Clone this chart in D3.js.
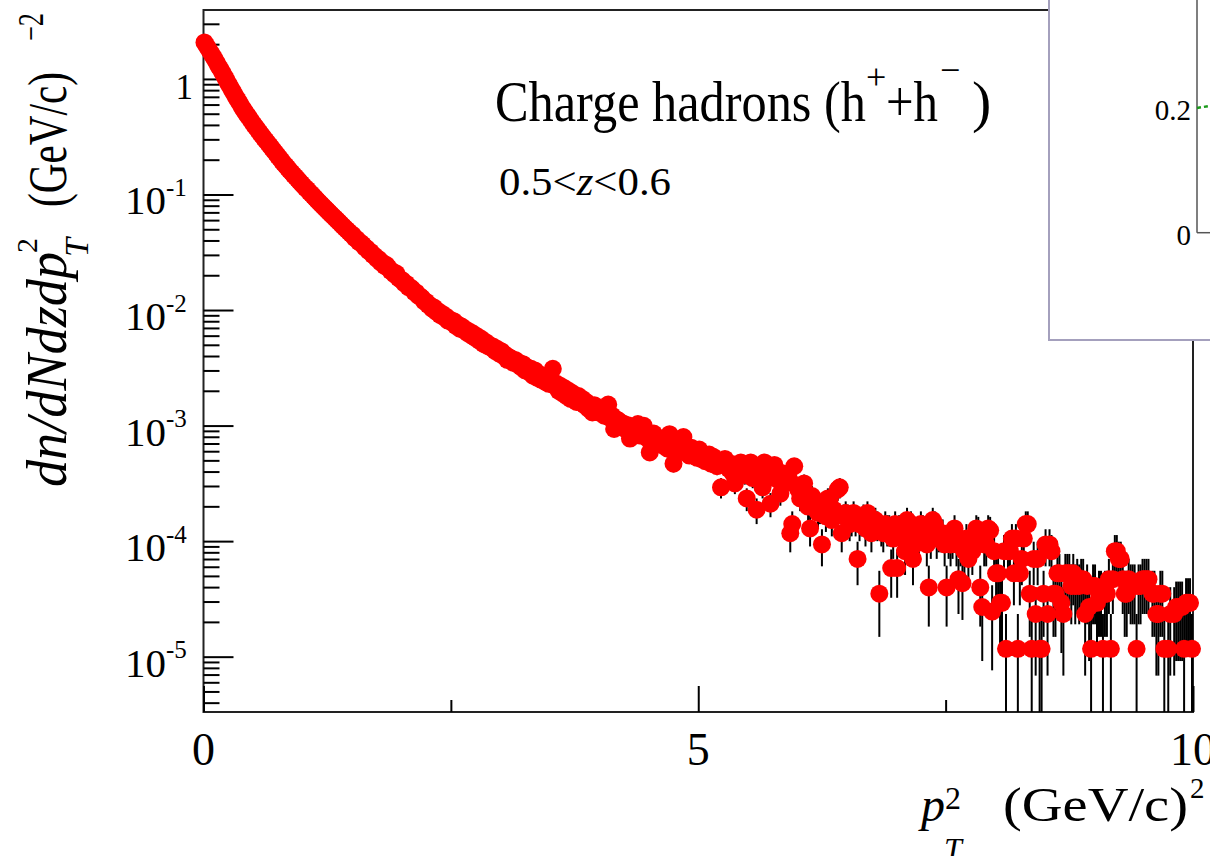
<!DOCTYPE html>
<html><head><meta charset="utf-8">
<script src="https://cdn.jsdelivr.net/npm/d3@7"></script>
<style>
body{margin:0;background:#fff}
svg{display:block}
text{font-family:"Liberation Serif","Times New Roman",serif;fill:#000}
</style></head>
<body><svg id="c" width="1210" height="856"></svg>
<script>
// ---------------- data ----------------
const binStart = 0, binWidth = 0.02;        // pT^2 bins (GeV/c)^2
const countUnit = 1.17e-5;                  // value of a single-entry bin
// dn/dNdzdpT2 for pT2 < 4
const lowValues = [
2.07,1.94,1.82,1.71,1.60, 1.50,1.40,1.30,1.22,1.14,
1.058,0.985,0.917,0.854,0.795, 0.742,0.694,0.649,0.607,0.568,
0.534,0.504,0.476,0.449,0.424, 0.401,0.381,0.361,0.342,0.325,
0.308,0.293,0.279,0.265,0.252, 0.239,0.228,0.216,0.206,0.195,
0.186,0.178,0.170,0.162,0.155, 0.148,0.142,0.136,0.130,0.124,
0.119,0.114,0.110,0.105,0.101, 0.0968,0.0929,0.0891,0.0855,0.0820,
0.0788,0.0758,0.0729,0.0701,0.0674, 0.0648,0.0623,0.0599,0.0576,0.0554,
0.0532,0.0512,0.0493,0.0474,0.0456, 0.0445,0.0418,0.0410,0.0388,0.0382,
0.0368,0.0349,0.0342,0.0323,0.0318, 0.0300,0.0295,0.0279,0.0276,0.0259,
0.0256,0.0241,0.0245,0.0232,0.0218, 0.0216,0.0203,0.0207,0.0190,0.0184,
0.0181,0.0170,0.0169,0.0158,0.0157, 0.0152,0.0143,0.0142,0.0133,0.0131,
0.0127,0.0119,0.0118,0.0111,0.0110, 0.0103,0.0105,0.0097,0.0098,0.0091,
0.0093,0.0087,0.0088,0.0081,0.0083, 0.0078,0.0080,0.0073,0.0075,0.0069,
0.0072,0.0067,0.0068,0.0063,0.0065, 0.0060,0.0062,0.0057,0.0059,0.0054,
0.0056,0.0051,0.0053,0.0049,0.0050, 0.0047,0.0048,0.0044,0.0046,0.0042,
0.0044,0.0040,0.0041,0.0037,0.0039, 0.0038,0.0035,0.0037,0.0034,0.0035,
0.0032,0.0034,0.0030,0.0032,0.0029, 0.0031,0.0027,0.0030,0.0026,0.0028,
0.0025,0.0027,0.0024,0.0026,0.0023, 0.0025,0.0031,0.0022,0.0023,0.0020,
0.0022,0.0019,0.0021,0.0018,0.0020, 0.0017,0.0019,0.0018,0.0016,0.0018,
0.0016,0.0017,0.0015,0.0016,0.0014, 0.0015,0.0013,0.0015,0.0014,0.0013
];
// weighted entries per bin (in units of countUnit) for pT2 >= 4
const highCounts = [
112,118,104,110,130,99,104,80,97,95,
92,84,88,79,86,66,82,77,84,88,
70,74,85,68,66,50,56,73,62,67,
60,64,57,59,54,72,58,40,61,56,
53,57,68,50,52,47,55,49,51,45,
53,44,47,42,45,48,40,46,43,38,
41,25,39,44,38,36,40,33,27,35,
37,41,34,32,20,36,41,30,38,16,
34,38,25,41,36,30,18,33,39,35,
29,22,33,27,30,31,10,12,38,26,
24,20,22,27,19,17,11,21,18,19,
15,16,8,17,14,20,20,13,16,15,
24,25,10,14,15,14,12,13,15,13,
6,12,13,14,11,15,12,10,13,13,
12,3,11,10,12,11,11,5,9,12,
5,11,10,9,7,13,10,12,6,8,
10,9,12,11,10,8,3.4,9,13,12,
9,10,10,10,8,3.4,9,8,9,11,
8,4,8,3.7,7,9,6,8,7,9,
11,10.6,3.4,2.3,8,8,11,10.6,2.1,7,
4.5,4.5,2.5,2.5,7,1,7,7,9,4.5,
9,1,4.5,6,9,12,12,3,1,6,
2,6,1,1,3,8,2,8,7,3,
3,4.5,4.5,2.5,2,4.5,4.5,4.5,3.5,4.5,
3.5,4,3.5,4,4,2,3.5,2.3,1,3.5,
3.5,2.5,3,3,1,3,3,4,1,4,
7,7,6,6,4,3,3,4,3.5,3.5,
3.5,1,3.5,3.5,4,4,4,4,0,3,
3,2,2,3,3,1,0,1,2,0,
2,2.3,2.3,2.3,2.3,1,2.5,2.5,2.5,1
];
const xDomain = [0, 10];
const yDomain = [3.32e-6, 3.95];
const xMajorTicks = [0, 5, 10];
const xMinorTicks = [2.5, 7.5];
const xTickLabels = ["0", "5", "10"];
const yMajorExps = [0, -1, -2, -3, -4, -5];
const yMinorMult = [2, 3, 4, 5, 6, 7, 8, 9];
// inset (partially visible)
const insetTicks = [0, 0.2];
const insetTickLabels = ["0", "0.2"];
const insetGreenX = [0.0, 0.18];
const insetGreenY = [0.2, 0.203];

// ---------------- chart ----------------
const svg = d3.select("#c");
const x = d3.scaleLinear().domain(xDomain).range([203.5, 1193]);
const y = d3.scaleLog().domain(yDomain).range([712, 10]);

const values = lowValues.concat(highCounts.map(c => c * countUnit));
const pts = values.map((v, i) => ({
  px: binStart + (i + 0.5) * binWidth, v, e: Math.sqrt(v * countUnit)
})).filter(d => d.v > 0);

// frame
svg.append("rect").attr("x", x(0)).attr("y", y(yDomain[1]))
  .attr("width", x(10) - x(0)).attr("height", y(yDomain[0]) - y(yDomain[1]))
  .attr("fill", "none").attr("stroke", "#222").attr("stroke-width", 2);

// y ticks
const yMinor = [];
for (let e = -6; e <= 0; e++) yMinorMult.forEach(m => {
  const v = m * Math.pow(10, e);
  if (v > yDomain[0] && v < yDomain[1]) yMinor.push(v);
});
function styleAxis(g){ g.select(".domain").remove(); g.selectAll("line").attr("stroke","#000").attr("stroke-width",2); g.selectAll("text").remove(); }
svg.append("g").attr("transform", `translate(${x(0)},0)`)
  .call(d3.axisLeft(y).tickValues(yMajorExps.map(e => Math.pow(10, e))).tickSize(-30).tickSizeOuter(0)).call(styleAxis);
svg.append("g").attr("transform", `translate(${x(0)},0)`)
  .call(d3.axisLeft(y).tickValues(yMinor).tickSize(-16).tickSizeOuter(0)).call(styleAxis);
// x ticks
svg.append("g").attr("transform", `translate(0,${y(yDomain[0])})`)
  .call(d3.axisBottom(x).tickValues(xMajorTicks).tickSize(-26).tickSizeOuter(0)).call(styleAxis);
svg.append("g").attr("transform", `translate(0,${y(yDomain[0])})`)
  .call(d3.axisBottom(x).tickValues(xMinorTicks).tickSize(-12).tickSizeOuter(0)).call(styleAxis);

// y tick labels
yMajorExps.forEach(e => {
  const ty = y(Math.pow(10, e));
  if (e === 0) {
    svg.append("text").attr("x", 193).attr("y", ty + 20).attr("text-anchor", "end")
      .attr("font-size", 35).text("1");
  } else {
    svg.append("text").attr("x", 166).attr("y", ty + 20).attr("text-anchor", "end")
      .attr("font-size", 41).text("10");
    svg.append("text").attr("x", 166).attr("y", ty + 1.5).attr("font-size", 25).text("-" + (-e));
  }
});
// x tick labels
xMajorTicks.forEach((t, i) => {
  svg.append("text").attr("x", x(t)).attr("y", 765).attr("text-anchor", "middle")
    .attr("font-size", 46).text(xTickLabels[i]);
});

// error bars
svg.append("g").selectAll("line").data(pts).join("line")
  .attr("x1", d => x(d.px)).attr("x2", d => x(d.px))
  .attr("y1", d => y(d.v + d.e))
  .attr("y2", d => y(Math.max(d.v - d.e, yDomain[0])))
  .attr("stroke", "#000").attr("stroke-width", 2);
// markers
svg.append("g").selectAll("circle").data(pts).join("circle")
  .attr("cx", d => x(d.px)).attr("cy", d => y(d.v)).attr("r", 9)
  .attr("fill", "#ff0000");

// texts
function txt(s, tx, ty, fs, opts = {}) {
  const t = svg.append("text").attr("transform", `translate(${tx},${ty})` + (opts.rot ? " rotate(-90)" : ""))
    .attr("font-size", fs).text(s);
  if (opts.italic) t.attr("font-style", "italic");
  if (opts.len) t.attr("textLength", opts.len).attr("lengthAdjust", "spacingAndGlyphs");
  if (opts.anchor) t.attr("text-anchor", opts.anchor);
  return t;
}
// title
txt("Charge hadrons (h", 495, 121, 58, {len: 371});
txt("+", 866, 89, 36);
txt("+h", 886, 121, 58, {len: 52});
txt("\u2212", 940, 82, 36);
txt(")", 972, 121, 58);

const sub = svg.append("text").attr("x", 499).attr("y", 195).attr("font-size", 40)
  .attr("textLength", 172).attr("lengthAdjust", "spacingAndGlyphs");
sub.append("tspan").text("0.5<");
sub.append("tspan").attr("font-style", "italic").text("z");
sub.append("tspan").text("<0.6");

// x title
txt("p", 921, 821, 48, {italic: true});
txt("2", 945, 809, 32);
txt("T", 944, 860, 32, {italic: true});
txt("(GeV/c)", 1003, 821, 48, {len: 185});
txt("2", 1190, 798, 29);

// y title (rotated)
txt("dn/dNdzdp", 66, 487, 58, {italic: true, rot: true, len: 235});
txt("2", 37, 253, 30, {rot: true});
txt("T", 88, 257, 34, {italic: true, rot: true});
txt("(GeV/c)", 66, 207, 54, {rot: true, len: 135});
txt("\u22122", 43, 41, 36, {rot: true, len: 28});

// inset (cropped at the right edge)
svg.append("rect").attr("x", 1049).attr("y", -5).attr("width", 175).attr("height", 345)
  .attr("fill", "#fff").attr("stroke", "#a4a0bd").attr("stroke-width", 2);
const iy = d3.scaleLinear().domain([0, 0.2]).range([232.7, 108]);
const ix = d3.scaleLinear().domain([0, 1]).range([1197, 1260]);
svg.append("line").attr("x1", ix(0)).attr("x2", ix(0)).attr("y1", 0).attr("y2", iy(0))
  .attr("stroke", "#555").attr("stroke-width", 1.5);
svg.append("line").attr("x1", ix(0)).attr("x2", 1212).attr("y1", iy(0)).attr("y2", iy(0))
  .attr("stroke", "#555").attr("stroke-width", 1.5);
insetTicks.forEach((t, i) => {
  svg.append("text").attr("x", 1191).attr("y", iy(t) + 12).attr("text-anchor", "end")
    .attr("font-size", 29).attr("fill", "#222").text(insetTickLabels[i]);
});
svg.append("path").datum(insetGreenX.map((v, i) => [v, insetGreenY[i]]))
  .attr("d", d3.line().x(d => ix(d[0])).y(d => iy(d[1])))
  .attr("stroke", "#1a9a1a").attr("stroke-width", 2.5).attr("stroke-dasharray", "4,3").attr("fill", "none");
</script></body></html>
